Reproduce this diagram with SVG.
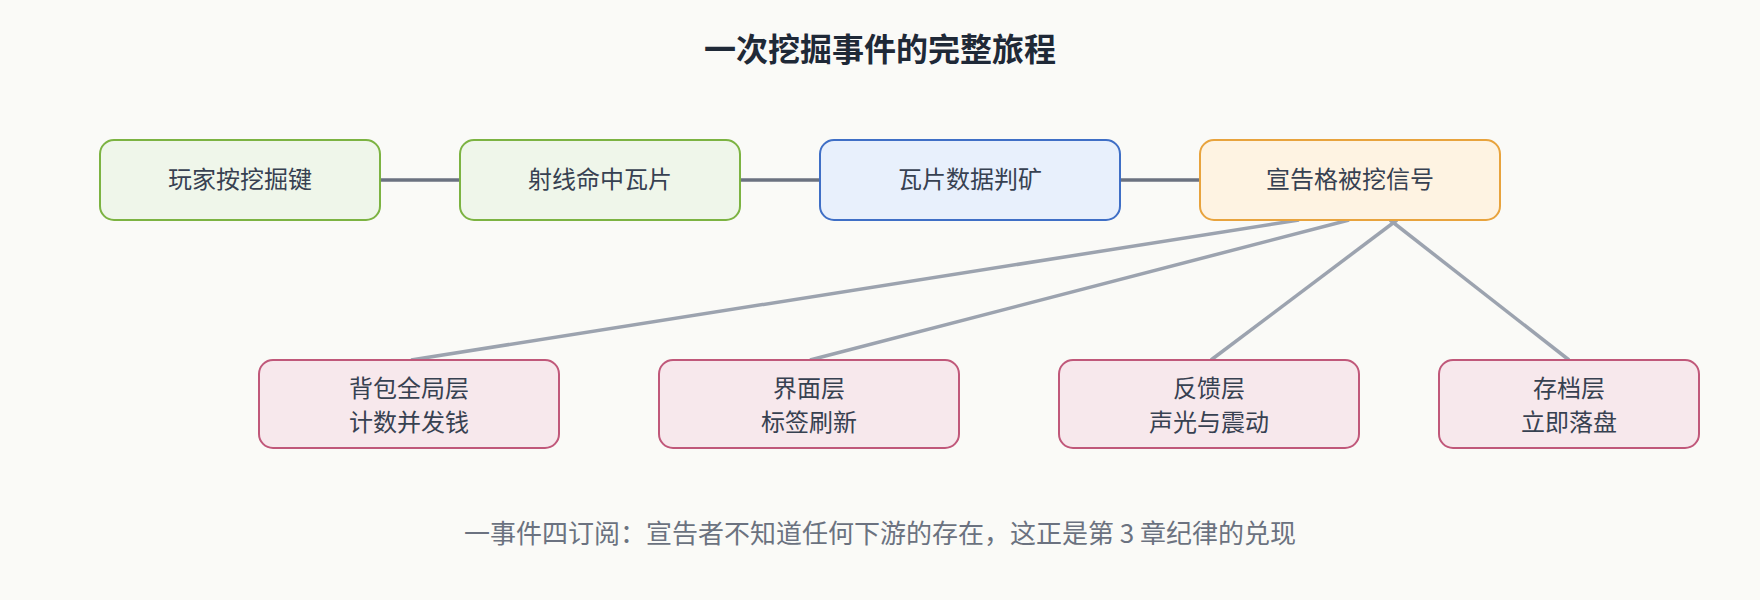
<svg xmlns="http://www.w3.org/2000/svg" width="1760" height="600" viewBox="0 0 1760 600">
<style>
text{font-family:"Noto Sans CJK SC","Noto Sans",sans-serif;fill:#374151;font-size:24px;text-anchor:middle;dominant-baseline:middle}
.t{font-size:32px;font-weight:bold;fill:#1f2937}
.f{fill:#6b7280;font-size:26px}
rect{stroke-width:2}
.g{fill:#eff6ea;stroke:#7cb342}
.b{fill:#e8f0fc;stroke:#3f6fc6}
.o{fill:#fef3e2;stroke:#e8a33d}
.p{fill:#f7e8ec;stroke:#c0587a}
.h{stroke:#6b7280;stroke-width:3.5}
.l{stroke:#9ca3af;stroke-width:3.5}
</style>
<rect width="1760" height="600" fill="#fafaf7"/>
<text class="t" x="880" y="52">一次挖掘事件的完整旅程</text>
<g id="connectors">
<line class="h" x1="380" y1="180" x2="460" y2="180"/>
<line class="h" x1="740" y1="180" x2="820" y2="180"/>
<line class="h" x1="1120" y1="180" x2="1200" y2="180"/>
<line class="l" x1="1299" y1="220" x2="411" y2="360"/>
<line class="l" x1="1349" y1="220" x2="810" y2="360"/>
<line class="l" x1="1397" y1="220" x2="1211" y2="360"/>
<line class="l" x1="1390" y1="220" x2="1569" y2="360"/>
</g>
<g id="n1"><rect class="g" x="100" y="140" width="280" height="80" rx="14"/><text x="240" y="181">玩家按挖掘键</text></g>
<g id="n2"><rect class="g" x="460" y="140" width="280" height="80" rx="14"/><text x="600" y="181">射线命中瓦片</text></g>
<g id="n3"><rect class="b" x="820" y="140" width="300" height="80" rx="14"/><text x="970" y="181">瓦片数据判矿</text></g>
<g id="n4"><rect class="o" x="1200" y="140" width="300" height="80" rx="14"/><text x="1350" y="181">宣告格被挖信号</text></g>
<g id="n5"><rect class="p" x="259" y="360" width="300" height="88" rx="14"/><text x="409" y="390">背包全局层</text><text x="409" y="424">计数并发钱</text></g>
<g id="n6"><rect class="p" x="659" y="360" width="300" height="88" rx="14"/><text x="809" y="390">界面层</text><text x="809" y="424">标签刷新</text></g>
<g id="n7"><rect class="p" x="1059" y="360" width="300" height="88" rx="14"/><text x="1209" y="390">反馈层</text><text x="1209" y="424">声光与震动</text></g>
<g id="n8"><rect class="p" x="1439" y="360" width="260" height="88" rx="14"/><text x="1569" y="390">存档层</text><text x="1569" y="424">立即落盘</text></g>
<text class="f" x="880" y="536">一事件四订阅：宣告者不知道任何下游的存在，这正是第 3 章纪律的兑现</text>
</svg>
